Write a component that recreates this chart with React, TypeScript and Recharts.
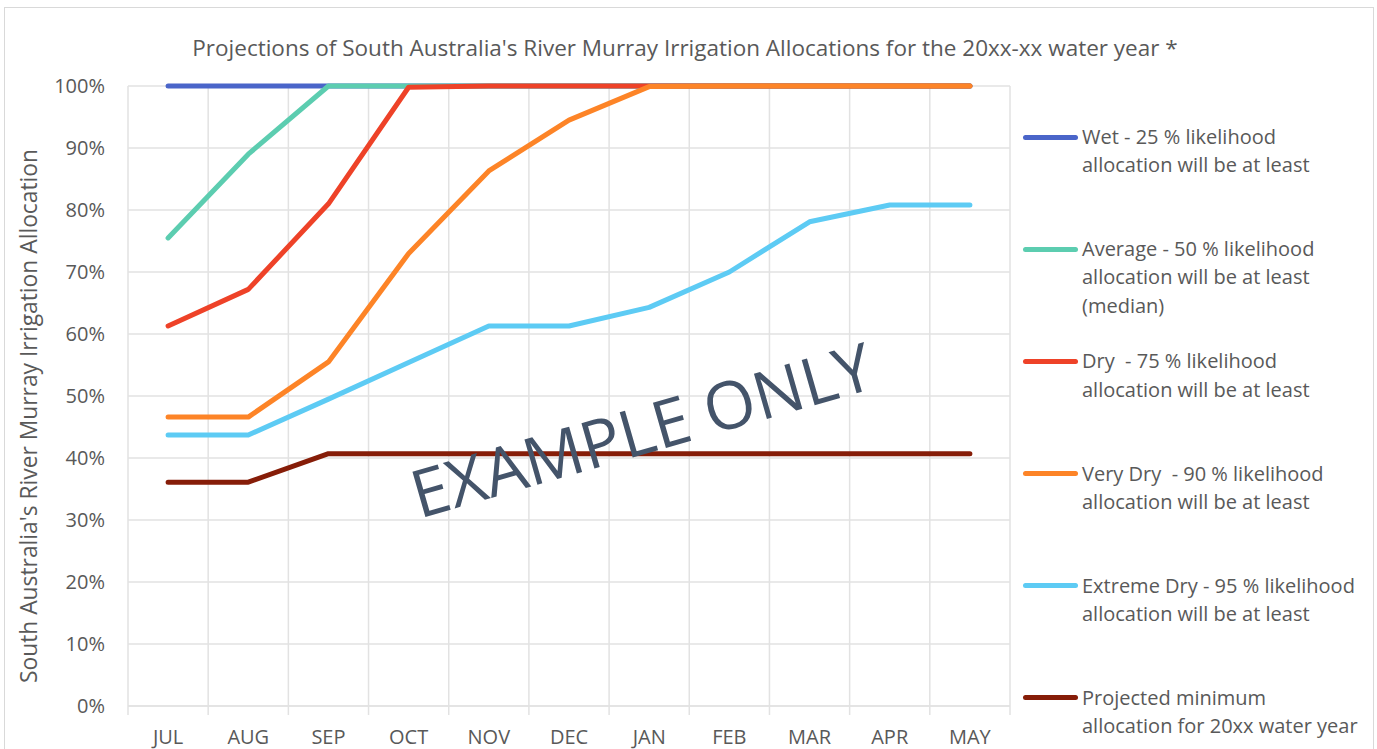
import React from "react";
import { LineChart, Line, XAxis, YAxis, CartesianGrid } from "recharts";

// months of the water year
const months = ["JUL", "AUG", "SEP", "OCT", "NOV", "DEC", "JAN", "FEB", "MAR", "APR", "MAY"];

// allocation (%) per scenario
const wet = [100, 100, 100, 100, 100, 100, 100, 100, 100, 100, 100];
const average = [75.5, 89, 100, 100, 100, 100, 100, 100, 100, 100, 100];
const dry = [61.3, 67.2, 81, 99.8, 100, 100, 100, 100, 100, 100, 100];
const veryDry = [46.6, 46.6, 55.5, 73, 86.3, 94.5, 99.9, 100, 100, 100, 100];
const extremeDry = [43.7, 43.7, 49.5, 55.4, 61.3, 61.3, 64.3, 70, 78.1, 80.8, 80.8];
const projectedMin = [36.1, 36.1, 40.7, 40.7, 40.7, 40.7, 40.7, 40.7, 40.7, 40.7, 40.7];

const yTicks = [0, 10, 20, 30, 40, 50, 60, 70, 80, 90, 100];

const series = [
  { key: "wet", values: wet, color: "#4a65c9", label: ["Wet - 25 % likelihood", "allocation will be at least"] },
  { key: "average", values: average, color: "#5ccdb0", label: ["Average - 50 % likelihood", "allocation will be at least", "(median)"] },
  { key: "dry", values: dry, color: "#ee4228", label: ["Dry  - 75 % likelihood", "allocation will be at least"] },
  { key: "veryDry", values: veryDry, color: "#fd8427", label: ["Very Dry  - 90 % likelihood", "allocation will be at least"] },
  { key: "extremeDry", values: extremeDry, color: "#5dcbf4", label: ["Extreme Dry - 95 % likelihood", "allocation will be at least"] },
  { key: "projectedMin", values: projectedMin, color: "#861d08", label: ["Projected minimum", "allocation for 20xx water year"] },
];

const data = months.map((m, i) => {
  const row: Record<string, string | number> = { month: m };
  series.forEach((s) => (row[s.key] = s.values[i]));
  return row;
});

const W = 1377;
const H = 749;
const margin = { top: 86, right: 367, bottom: 0, left: 68 };
const Y_AXIS_W = 60;
const X_AXIS_H = 43;
const plotLeft = margin.left + Y_AXIS_W;
const plotW = W - plotLeft - margin.right;
const band = plotW / months.length;

const FONT = "'Open Sans', 'Noto Sans', sans-serif";
const TEXT = "#595959";
const GRID = "#e2e2e2";

const MonthTick = (props: any) => {
  const { x, y, payload, index } = props;
  const left = x - band / 2;
  return (
    <g>
      <line x1={left} x2={left} y1={y} y2={y + 9} stroke={GRID} strokeWidth={1.5} />
      {index === months.length - 1 && (
        <line x1={x + band / 2} x2={x + band / 2} y1={y} y2={y + 9} stroke={GRID} strokeWidth={1.5} />
      )}
      <text x={x} y={y + 30} textAnchor="middle" dominantBaseline="central" fill={TEXT} fontSize={20} fontFamily={FONT}>
        {payload.value}
      </text>
    </g>
  );
};

const YLabel = (props: any) => {
  const vb = props.viewBox || { x: 68, y: 86, width: 60, height: 620 };
  const cx = 28;
  const cy = vb.y + vb.height / 2 + 20;
  return (
    <text
      x={cx}
      y={cy}
      transform={`rotate(-90 ${cx} ${cy})`}
      textAnchor="middle"
      dominantBaseline="central"
      fill={TEXT}
      fontSize={22.8}
      fontFamily={FONT}
    >
      South Australia's River Murray Irrigation Allocation
    </text>
  );
};

export default function App() {
  return (
    <div style={{ position: "absolute", left: 0, top: 0, width: W, height: H, background: "#fff", overflow: "hidden", fontFamily: FONT }}>
      <LineChart width={W} height={H} data={data} margin={margin}>
        <CartesianGrid
          stroke={GRID}
          strokeWidth={1.5}
          verticalCoordinatesGenerator={({ offset }: any) =>
            months.map((_, i) => offset.left + (i * offset.width) / months.length).concat(offset.left + offset.width)
          }
        />
        <XAxis
          dataKey="month"
          height={X_AXIS_H}
          padding={{ left: band / 2, right: band / 2 }}
          tickLine={false}
          tickSize={0}
          tickMargin={0}
          axisLine={{ stroke: GRID, strokeWidth: 1.5 }}
          tick={<MonthTick />}
          interval={0}
        />
        <YAxis
          width={Y_AXIS_W}
          domain={[0, 100]}
          ticks={yTicks}
          tickFormatter={(v) => `${v}%`}
          axisLine={false}
          tickLine={false}
          tickSize={0}
          tickMargin={23}
          tick={{ fill: TEXT, fontSize: 20, fontFamily: FONT }}
          label={<YLabel />}
        />
        {series.map((s) => (
          <Line
            key={s.key}
            dataKey={s.key}
            stroke={s.color}
            strokeWidth={5}
            strokeLinecap="round"
            strokeLinejoin="round"
            dot={false}
            activeDot={false}
            isAnimationActive={false}
          />
        ))}
      </LineChart>
      <div
        style={{
          position: "absolute",
          left: 4,
          top: 7,
          width: 1370,
          height: 800,
          border: "1.5px solid #d9d9d9",
          boxSizing: "border-box",
          pointerEvents: "none",
        }}
      />
      <div
        style={{
          position: "absolute",
          left: 0,
          width: 1370,
          top: 32,
          textAlign: "center",
          fontSize: 22.5,
          color: TEXT,
          whiteSpace: "nowrap",
        }}
      >
        Projections of South Australia's River Murray Irrigation Allocations for the 20xx-xx water year *
      </div>
      <div style={{ position: "absolute", left: 1023, top: 123 }}>
        {series.map((s) => (
          <div key={s.key} style={{ height: 112.2, position: "relative" }}>
            <div
              style={{
                position: "absolute",
                left: 0,
                top: 11.5,
                width: 55,
                height: 5,
                borderRadius: 3,
                background: s.color,
              }}
            />
            <div style={{ position: "absolute", left: 59, top: 0, fontSize: 20, lineHeight: "28.3px", color: TEXT, whiteSpace: "pre" }}>
              {s.label.map((l, i) => (
                <div key={i}>{l}</div>
              ))}
            </div>
          </div>
        ))}
      </div>
      <div
        style={{
          position: "absolute",
          left: 641,
          top: 428,
          transform: "translate(-50%, -50%) rotate(-16deg)",
          fontSize: 66,
          color: "#44546a",
          whiteSpace: "nowrap",
          pointerEvents: "none",
        }}
      >
        EXAMPLE ONLY
      </div>
    </div>
  );
}
